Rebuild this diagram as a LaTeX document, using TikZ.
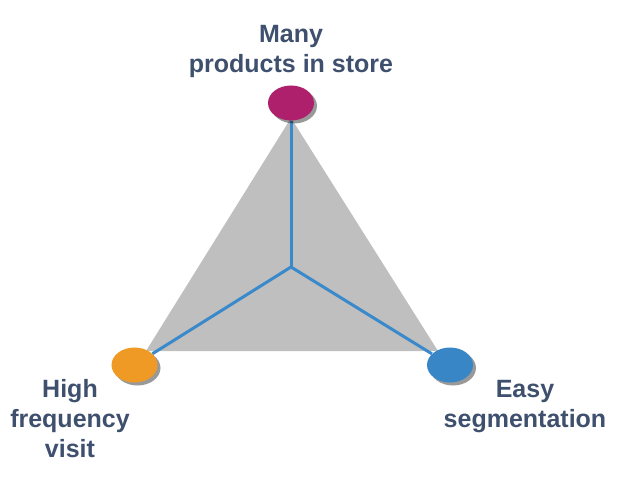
\documentclass[tikz,border=0pt]{standalone}
\usepackage{fontspec}
\setmainfont{Liberation Sans}
\usetikzlibrary{shapes.geometric,shadows,backgrounds}
\definecolor{txtc}{RGB}{62,80,110}
\definecolor{magc}{RGB}{174,31,108}
\definecolor{orac}{RGB}{238,154,37}
\definecolor{bluc}{RGB}{57,134,198}
\definecolor{linec}{RGB}{58,137,202}
\definecolor{triac}{RGB}{191,191,191}
\begin{document}
\begin{tikzpicture}[x=1pt,y=-1pt,
  dot/.style={ellipse,draw=none,inner sep=0pt,minimum width=46pt,minimum height=35pt,
    drop shadow={shadow xshift=3pt,shadow yshift=-3pt,fill=black,opacity=0.4}},
  lbl/.style={font=\fontsize{25}{30}\selectfont\bfseries,text=txtc,align=center,inner sep=0pt,anchor=north},
  spoke/.style={draw=linec,line width=3pt}]
\useasboundingbox (0,0) rectangle (617,494);
% nodes
\node[dot,fill=magc] (top) at (291,103) {};
\node[dot,fill=orac] (left) at (134.5,365) {};
\node[dot,fill=bluc] (right) at (450,365) {};
\coordinate (ctr) at (291,267);
\coordinate (ta) at (291,118);
\coordinate (tb) at (146,351);
\coordinate (tc) at (438,351);
\begin{pgfonlayer}{background}
\fill[triac] (ta) -- (tb) -- (tc) -- cycle;
\draw[spoke] (ctr) -- (top);
\draw[spoke] (ctr) -- (left);
\draw[spoke] (ctr) -- (right);
\end{pgfonlayer}
% labels
\node[lbl] (ltop) at (291,25) {Many\\products in store};
\node[lbl] (lleft) at (70,379) {High\\frequency\\visit};
\node[lbl] (lright) at (525,380.5) {Easy\\segmentation};
\end{tikzpicture}
\end{document}
